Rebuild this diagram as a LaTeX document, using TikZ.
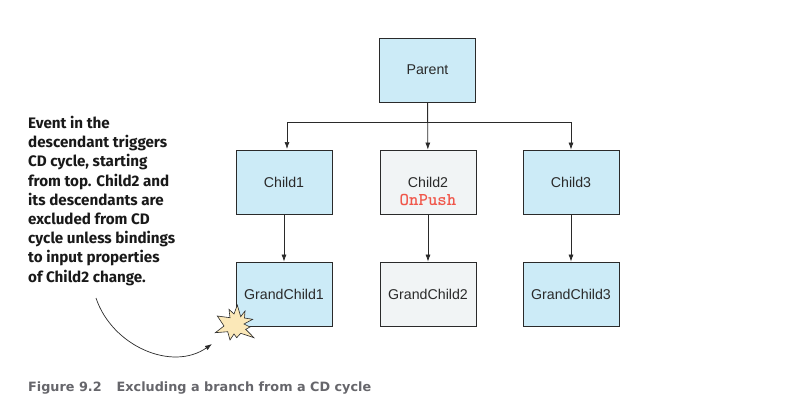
\documentclass[tikz,border=0pt]{standalone}
\usepackage{fontspec}
\setmainfont{Liberation Sans}
\newfontfamily\notefont{Fira Sans}
\newfontfamily\capfont{DejaVu Sans}
\usetikzlibrary{arrows.meta}
\definecolor{boxblue}{HTML}{CCEBF7}
\definecolor{boxgray}{HTML}{F1F4F5}
\definecolor{burstyellow}{HTML}{FBE8B8}
\definecolor{pushred}{HTML}{F0564A}
\definecolor{captiongray}{HTML}{66666B}
\definecolor{linegray}{HTML}{2A2A2A}

\begin{document}
\begin{tikzpicture}[x=1pt,y=-1pt,
    comp/.style={draw=linegray,line width=0.8pt,minimum width=96pt,minimum height=64pt,inner sep=0pt,align=center,text=linegray,font=\fontsize{14.2}{17}\selectfont},
    blue box/.style={comp,fill=boxblue},
    gray box/.style={comp,fill=boxgray},
    link/.style={draw=linegray,line width=0.7pt,-{Latex[length=7pt,width=5pt]}}]
    \useasboundingbox (0,0) rectangle (787,418);

    \node[blue box] (parent) at (427.5,70) {Parent};

    \node[blue box] (child1) at (284,182) {Child1};
    \node[gray box] (child2) at (428,182) {Child2};
    \node[inner sep=0pt,text=pushred,font=\ttfamily\bfseries\fontsize{18}{20}\selectfont] (push) at (428,200) {OnPush};
    \node[blue box] (child3) at (571,182) {Child3};

    \node[blue box] (grand1) at (284,294) {GrandChild1};
    \node[gray box] (grand2) at (428,294) {GrandChild2};
    \node[blue box] (grand3) at (571,294) {GrandChild3};

    \coordinate (bus) at (427.5,122);
    \coordinate (drop1) at (287,149);
    \draw[link] (parent) -- (child2);
    \draw[link] (parent.south) -- (bus) -| (drop1);
    \draw[link] (bus) -| (child3.north);

    \draw[link] (child1) -- (grand1);
    \draw[link] (child2) -- (grand2);
    \draw[link] (child3) -- (grand3);

    % burst on the corner of GrandChild1
    \draw[draw=linegray,fill=burstyellow,line width=0.6pt,miter limit=20] (237.3,305) -- (240.7,316.7) -- (245,311) -- (244.5,318) -- (252.7,319.3) -- (244,324) -- (250,327) -- (245.7,329.3) -- (254,337.7) -- (240.7,333.3) -- (236.7,337.7) -- (234,334) -- (230,340) -- (227.7,331.7) -- (215.3,332.7) -- (224,326) -- (217.3,316) -- (230,317.7) -- (229,309.3) -- (234,314) -- cycle;

    \node[anchor=north west,inner sep=0pt,align=left,text=black!90,font=\notefont\bfseries\fontsize{15.2}{19.2}\selectfont] (note) at (28,116) {Event in the\\descendant triggers\\CD cycle, starting\\from top. Child2 and\\its descendants are\\excluded from CD\\cycle unless bindings\\to input properties\\of Child2 change.};

    \coordinate (tail) at (96,298);
    \coordinate (head) at (212,344);
    \draw[link] (tail) .. controls (112,346) and (172,372) .. (head);

    \node[anchor=base west,inner sep=0pt,text=captiongray,font=\capfont\bfseries\fontsize{12.8}{16}\selectfont] (caption) at (28,391) {Figure 9.2\hspace{15pt}Excluding a branch from a CD cycle};
\end{tikzpicture}
\end{document}
